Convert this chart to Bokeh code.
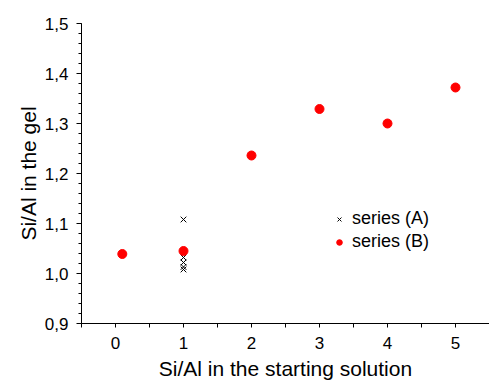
from bokeh.plotting import figure
from bokeh.models import FixedTicker, CustomJSTickFormatter, Legend, LegendItem, Range1d
from bokeh.embed import file_html
from bokeh.resources import INLINE

# Si/Al ratio in the starting solution vs. in the gel
series_a_x = [1, 1, 1, 1, 1]
series_a_y = [1.108, 1.032, 1.022, 1.013, 1.008]

series_b_x = [0.1, 1, 2, 3, 4, 5]
series_b_y = [1.039, 1.045, 1.236, 1.329, 1.300, 1.372]

x_ticks = [0, 1, 2, 3, 4, 5]
x_minor = [-0.5, 0.5, 1.5, 2.5, 3.5, 4.5, 5.5]
y_ticks = [0.9, 1.0, 1.1, 1.2, 1.3, 1.4, 1.5]
y_minor = [round(0.9 + 0.02 * i, 2) for i in range(31)]

FONT = "Liberation Sans"

p = figure(width=489, height=382, output_backend="svg", toolbar_location=None,
           x_range=Range1d(-0.5, 5.5), y_range=Range1d(0.9, 1.5),
           min_border_left=81, min_border_right=0, min_border_top=23,
           min_border_bottom=58)
p.outline_line_color = None
p.xgrid.visible = False
p.ygrid.visible = False

ra = p.scatter(series_a_x, series_a_y, marker="x", size=8, line_color="black",
               line_width=1)
rb = p.scatter(series_b_x, series_b_y, marker="circle", size=9, fill_color="red",
               line_color="red")

for ax in (p.xaxis[0], p.yaxis[0]):
    ax.axis_line_color = "black"
    ax.major_tick_line_color = "black"
    ax.minor_tick_line_color = "black"
    ax.major_tick_in = 0
    ax.minor_tick_in = 0
    ax.major_label_text_font = FONT
    ax.major_label_text_font_size = "17px"
    ax.major_label_text_color = "black"
    ax.axis_label_text_font = FONT
    ax.axis_label_text_font_size = "21px"
    ax.axis_label_text_font_style = "normal"
    ax.axis_label_text_color = "black"

p.xaxis.ticker = FixedTicker(ticks=x_ticks, minor_ticks=x_minor)
p.xaxis.formatter = CustomJSTickFormatter(code="return tick.toFixed(0);")
p.xaxis.major_tick_out = 4
p.xaxis.minor_tick_out = 4
p.xaxis.major_label_standoff = 9
p.xaxis.axis_label = "Si/Al in the starting solution"
p.xaxis.axis_label_standoff = 5

p.yaxis.ticker = FixedTicker(ticks=y_ticks, minor_ticks=y_minor)
p.yaxis.formatter = CustomJSTickFormatter(
    code="return tick.toFixed(1).replace('.', ',');")
p.yaxis.major_tick_out = 5
p.yaxis.minor_tick_out = 3
p.yaxis.major_label_standoff = 8
p.yaxis.axis_label = "Si/Al in the gel"
p.yaxis.axis_label_standoff = 2

legend = Legend(items=[LegendItem(label="series (A)", renderers=[ra]),
                       LegendItem(label="series (B)", renderers=[rb])],
                location=(251, 71))
legend.border_line_color = None
legend.background_fill_alpha = 0
legend.label_text_font = FONT
legend.label_text_font_size = "18px"
legend.label_text_color = "black"
legend.glyph_width = 14
legend.label_standoff = 6
legend.spacing = 2
legend.padding = 4
p.add_layout(legend)

open("out.html", "w").write(file_html(p, INLINE))
